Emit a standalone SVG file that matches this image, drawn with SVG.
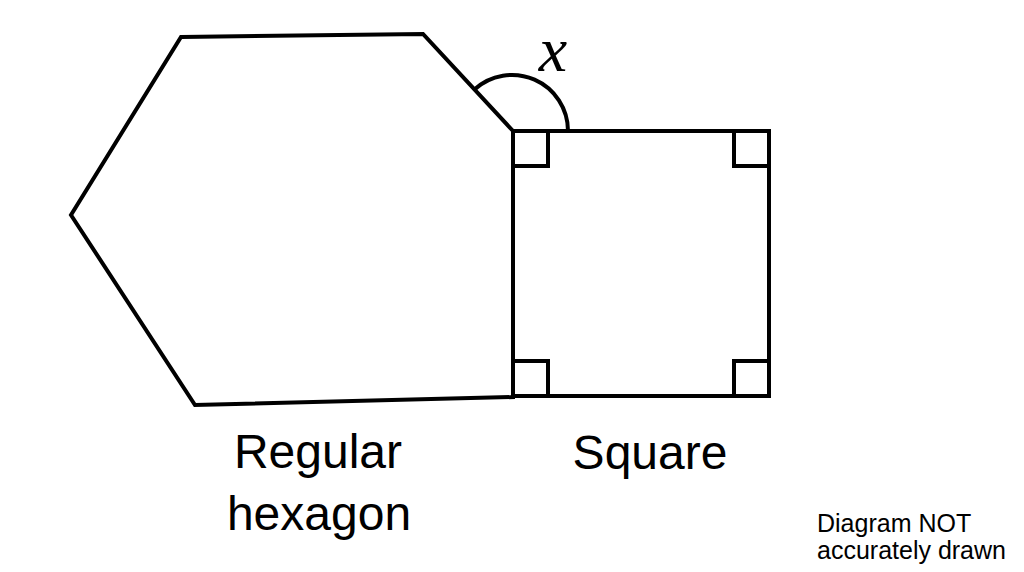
<svg xmlns="http://www.w3.org/2000/svg" width="1024" height="572" viewBox="0 0 1024 572">
<style>
.s{fill:none;stroke:#000;stroke-width:4;stroke-linejoin:miter}
.lbl{font-family:"Liberation Sans",Arial,sans-serif;font-size:48px;fill:#000;text-anchor:middle}
.note{font-family:"Liberation Sans",Arial,sans-serif;font-size:25px;fill:#000}
.var{font-family:"Liberation Serif","Times New Roman",serif;font-style:italic;font-size:64px;fill:#000;text-anchor:middle}
</style>
<rect width="1024" height="572" fill="#fff"/>
<g id="hexagon">
<polygon class="s" points="181,37 423,34 513,131 513,397 195,405 71,215"/>
<text class="lbl" x="318" y="468">Regular</text>
<text class="lbl" x="319" y="530">hexagon</text>
</g>
<g id="square">
<rect class="s" x="513" y="131" width="256" height="265"/>
<polyline class="s" points="513,166 548,166 548,131"/>
<polyline class="s" points="734,131 734,166 769,166"/>
<polyline class="s" points="513,361 548,361 548,396"/>
<polyline class="s" points="734,396 734,361 769,361"/>
<text class="lbl" x="650" y="469">Square</text>
</g>
<g id="angle">
<path class="s" d="M474.1,89.7 A56,56 0 0 1 568,131"/>
<text class="var" x="553" y="71">x</text>
</g>
<g id="note">
<text class="note" x="817" y="532">Diagram NOT</text>
<text class="note" x="817" y="559">accurately drawn</text>
</g>
<g id="connectors"></g>
</svg>
